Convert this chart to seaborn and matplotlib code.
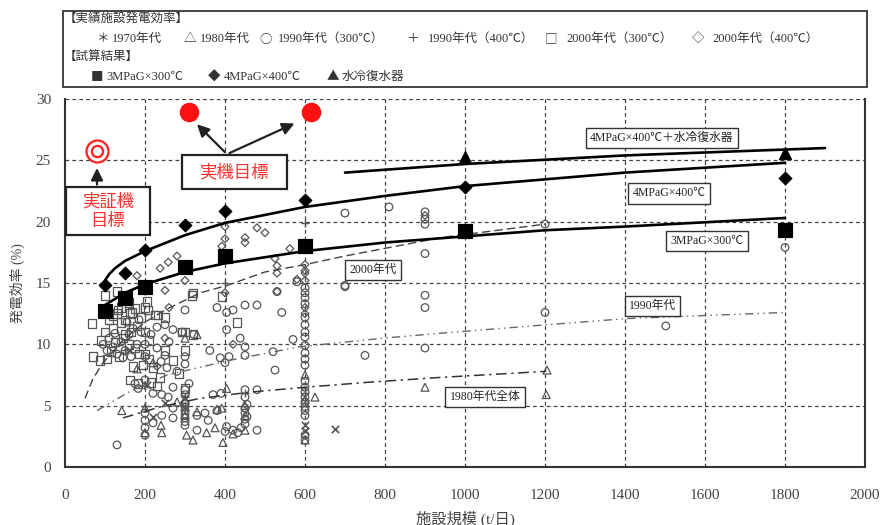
import matplotlib
matplotlib.use("Agg")
import matplotlib.pyplot as plt
from matplotlib.patches import Rectangle
import seaborn as sns

x_1970 = [205, 220, 300, 300, 600, 600, 675, 160, 250]
y_1970 = [6.7, 4.1, 5.6, 4.9, 3.4, 2.9, 3.1, 9.5, 5.2]

x_1980 = [142, 200, 220, 242, 300, 300, 304, 320, 330, 354, 375, 392, 395, 404, 450, 450, 450,
          600, 600, 600, 625, 900, 1203, 1205, 300, 240, 200, 330, 380, 420, 280, 180]
y_1980 = [4.6, 2.8, 8.5, 2.8, 10.5, 5.5, 2.6, 2.2, 10.8, 2.8, 3.2, 4.8, 2.0, 6.4, 5.0, 3.0, 4.2,
          7.5, 2.2, 5.5, 5.7, 6.5, 5.9, 7.9, 4.2, 3.4, 4.8, 4.5, 4.7, 2.7, 5.3, 8.0]

x_1990_300 = [130, 300, 450, 480, 542, 530, 380, 404, 420, 250, 270, 292, 322, 404, 438, 450, 450,
              362, 388, 400, 300, 300, 250, 230, 255, 270, 242, 258, 220, 183, 200, 270, 270, 242,
              220, 200, 200, 330, 370, 330, 358, 404, 432, 480, 455, 455, 570, 525, 750, 700, 580,
              900, 900, 1200, 1502, 1800, 900,
              600, 600, 600, 600, 600, 600, 600, 600, 600, 600, 600, 600, 600, 600, 600, 600, 600,
              600, 600, 600, 600, 600,
              300, 300, 300, 300, 300, 300, 300, 300, 300,
              450, 450, 450, 450, 450, 450,
              200, 200, 200, 200,
              110, 120, 130, 140, 150, 160, 170, 180, 190, 125, 145, 165, 175, 185, 155, 105, 95,
              215, 230, 240, 260, 280, 310, 350, 390, 410, 420, 440, 400, 380, 520, 480,
              700, 810, 900, 900, 900, 900, 700, 1200]
y_1990_300 = [1.8, 12.8, 13.2, 13.2, 12.6, 14.3, 13.0, 12.6, 12.8, 11.6, 11.2, 11.0, 10.8, 11.2, 10.5, 9.8, 9.1,
              9.5, 8.9, 8.5, 9.0, 8.4, 9.1, 9.7, 8.1, 6.5, 5.9, 5.7, 6.0, 6.4, 7.1, 4.8, 4.0, 4.2,
              3.6, 3.8, 3.2, 3.0, 5.9, 4.2, 3.8, 3.3, 2.8, 3.0, 4.1, 5.1, 10.4, 7.9, 9.1, 14.7, 15.1,
              14.0, 9.7, 12.6, 11.5, 17.9, 13.0,
              14.6, 14.2, 13.8, 13.3, 12.2, 11.6, 11.0, 10.6, 9.9, 9.3, 8.8, 8.3, 7.0, 6.5, 6.1, 5.7, 5.3,
              4.9, 4.6, 4.2, 2.6, 2.2,
              6.3, 5.9, 5.2, 4.9, 4.6, 4.3, 4.0, 3.7, 3.4,
              6.3, 5.7, 4.8, 4.4, 3.9, 3.5,
              4.4, 2.6, 9.0, 10.0,
              10.5, 9.8, 9.2, 10.2, 9.5, 10.8, 11.3, 10.0, 11.0, 10.9, 8.9, 9.0, 6.8, 12.0, 11.8, 9.5, 10.0,
              10.8, 11.4, 8.6, 10.2, 7.8, 6.8, 4.4, 6.0, 9.0, 3.0, 3.2, 2.9, 4.6, 9.4, 6.3,
              20.7, 21.2, 20.8, 20.2, 19.8, 17.4, 14.8, 19.8]

x_1990_400 = [600, 400, 200, 300, 450, 600, 600, 300, 200, 150]
y_1990_400 = [19.9, 15.0, 6.6, 5.0, 6.0, 6.0, 5.5, 5.7, 5.0, 9.5]

x_2000_300 = [68, 100, 130, 133, 168, 208, 205, 225, 320, 292, 320, 70, 88, 130, 163, 233, 317, 392,
              430, 270, 238, 163, 183, 170, 195, 220, 300, 300, 100, 110, 120, 140, 150, 160, 180,
              190, 200, 210, 115, 135, 150, 175, 200, 125, 145, 165, 185, 210, 250, 285, 90, 105,
              250, 200, 160, 140, 120, 175, 215, 230, 300]
y_2000_300 = [11.7, 14.0, 14.3, 12.8, 12.6, 12.8, 13.5, 12.4, 14.2, 11.0, 10.8, 9.0, 8.7, 12.5, 12.5, 12.4, 14.0, 13.9,
              11.8, 8.7, 7.3, 7.1, 6.8, 8.2, 8.3, 8.1, 6.4, 11.0, 11.0, 12.0, 11.3, 11.8, 10.8, 10.0, 11.5,
              12.2, 11.0, 10.3, 9.4, 9.0, 12.0, 9.7, 9.2, 10.2, 10.5, 11.0, 9.2, 8.8, 9.5, 7.6, 10.3, 8.8,
              12.2, 13.0, 13.4, 13.0, 12.3, 12.9, 6.9, 6.6, 9.5]

x_2000_400 = [180, 238, 258, 280, 300, 392, 400, 450, 480, 500, 525, 530, 562, 580, 600, 530, 530,
              600, 600, 250, 400, 900, 450, 400, 230, 250, 260, 420, 600, 600, 600]
y_2000_400 = [15.6, 16.2, 16.7, 17.2, 15.2, 18.0, 18.6, 18.3, 19.5, 19.1, 17.0, 15.8, 17.8, 15.3, 16.5, 16.4, 14.3,
              15.8, 15.2, 14.4, 19.6, 20.5, 18.7, 14.2, 8.2, 10.5, 13.0, 10.0, 13.0, 12.5, 16.0]

# --- trial calculation results ---
x_3mpa = [100, 150, 200, 300, 400, 600, 1000, 1800]
y_3mpa = [12.7, 13.8, 14.7, 16.3, 17.2, 18.0, 19.2, 19.3]
x_4mpa = [100, 150, 200, 300, 400, 600, 1000, 1800]
y_4mpa = [14.8, 15.8, 17.7, 19.7, 20.9, 21.8, 22.8, 23.6]
x_water = [1000, 1800]
y_water = [25.3, 25.6]

# --- trend curves ---
cx_3mpa = [100, 150, 200, 300, 400, 600, 800, 1000, 1200, 1400, 1800]
cy_3mpa = [13.2, 14.2, 14.9, 15.9, 16.6, 17.6, 18.3, 18.8, 19.3, 19.6, 20.3]
cx_4mpa = [100, 110, 125, 150, 200, 300, 400, 600, 800, 1000, 1400, 1800]
cy_4mpa = [15.2, 15.7, 16.2, 16.8, 17.6, 18.9, 19.9, 21.2, 22.1, 22.9, 24.0, 24.8]
cx_water = [700, 1000, 1400, 1900]
cy_water = [24.0, 24.7, 25.4, 26.0]
cx_2000 = [50, 70, 95, 150, 200, 250, 338, 405, 500, 600, 700, 812, 940, 1200]
cy_2000 = [5.6, 7.2, 8.5, 10.5, 11.8, 12.8, 14.2, 14.8, 15.9, 16.5, 17.2, 17.9, 18.7, 19.8]
cx_1990 = [80, 170, 255, 412, 587, 795, 937, 1205, 1405, 1800]
cy_1990 = [4.6, 6.3, 7.5, 8.7, 9.8, 10.5, 10.9, 11.6, 12.1, 12.6]
cx_1980 = [145, 238, 338, 462, 600, 755, 937, 1203]
cy_1980 = [4.0, 4.9, 5.6, 6.1, 6.5, 6.9, 7.3, 7.8]

# --- targets ---
demo_target = (80, 25.8)
real_target_x = [310, 615]
real_target_y = [28.9, 28.9]

W, H = 883, 525
sns.set_theme(style="white")
plt.rcParams['font.family'] = ['Liberation Serif', 'Noto Sans CJK JP']

fig = plt.figure(figsize=(W / 100, H / 100), dpi=100)
ax = fig.add_axes([65 / W, 58 / H, 800 / W, 368 / H])

grid_kw = dict(color="#444", lw=0.9, ls=(0, (3, 2.5)), zorder=0)
for gx in range(200, 2000, 200):
    ax.axvline(gx, **grid_kw)
for gy in range(5, 31, 5):
    ax.axhline(gy, **grid_kw)

edge = "#555"
open_kw = dict(facecolor="none", edgecolor=edge, linewidth=0.9, ax=ax, zorder=3)
sns.scatterplot(x=x_1990_300, y=y_1990_300, marker="o", s=30, **open_kw)
sns.scatterplot(x=x_1980, y=y_1980, marker="^", s=32, **open_kw)
sns.scatterplot(x=x_2000_300, y=y_2000_300, marker="s", s=38, **open_kw)
sns.scatterplot(x=x_2000_400, y=y_2000_400, marker="D", s=16, **open_kw)
sns.scatterplot(x=x_1970, y=y_1970, marker="x", s=28, color=edge, linewidth=1.2, ax=ax, zorder=3)
sns.scatterplot(x=x_1990_400, y=y_1990_400, marker="+", s=34, color=edge, linewidth=1.0, ax=ax, zorder=3)

# decade trend curves
thin = dict(sort=False, estimator=None, ax=ax, zorder=4)
sns.lineplot(x=cx_2000, y=cy_2000, color="#444", lw=1.0, linestyle=(0, (6, 3)), **thin)
sns.lineplot(x=cx_1990, y=cy_1990, color="#666", lw=1.0, linestyle=(0, (6, 3, 1, 3, 1, 3)), **thin)
sns.lineplot(x=cx_1980, y=cy_1980, color="#333", lw=1.1, linestyle=(0, (7, 3, 1.5, 3)), **thin)

# model curves
sns.lineplot(x=cx_3mpa, y=cy_3mpa, color="black", lw=1.9, **thin)
sns.lineplot(x=cx_4mpa, y=cy_4mpa, color="black", lw=1.9, **thin)
sns.lineplot(x=cx_water, y=cy_water, color="black", lw=1.9, **thin)

sns.scatterplot(x=x_3mpa, y=y_3mpa, marker="s", s=110, color="black", edgecolor="black", ax=ax, zorder=5)
sns.scatterplot(x=x_4mpa, y=y_4mpa, marker="D", s=45, color="black", edgecolor="black", ax=ax, zorder=5)
sns.scatterplot(x=x_water, y=y_water, marker="^", s=80, color="black", edgecolor="black", ax=ax, zorder=5)

# targets
ax.scatter([demo_target[0]], [demo_target[1]], s=250, facecolor="white", edgecolor="#ff2020", linewidth=1.6, zorder=6, clip_on=False)
ax.scatter([demo_target[0]], [demo_target[1]], s=65, facecolor="white", edgecolor="#ff2020", linewidth=1.6, zorder=6, clip_on=False)
sns.scatterplot(x=real_target_x, y=real_target_y, s=170, color="#ff1010", edgecolor="#ff1010", ax=ax, zorder=6)

red = "#ff3030"
box_kw = dict(fill=True, facecolor="white", edgecolor="#222", lw=1.6, zorder=7)
ax.add_patch(Rectangle((3, 18.9), 209, 3.9, **box_kw))
ax.text(107, 20.85, "実証機\n目標", color=red, fontsize=12.5, ha="center", va="center",
        linespacing=1.15, zorder=8, family="Noto Sans CJK JP")
ax.add_patch(Rectangle((292, 22.7), 263, 2.75, **box_kw))
ax.text(423, 24.0, "実機目標", color=red, fontsize=12.5, ha="center", va="center", zorder=8,
        family="Noto Sans CJK JP")

arrow_kw = dict(arrowstyle="-|>,head_length=0.6,head_width=0.3", color="#222", lw=1.6)
ax.annotate("", xy=(80, 24.6), xytext=(80, 22.8), arrowprops=arrow_kw, zorder=8)
ax.annotate("", xy=(325, 28.1), xytext=(405, 25.5), arrowprops=arrow_kw, zorder=8)
ax.annotate("", xy=(580, 28.1), xytext=(405, 25.5), arrowprops=arrow_kw, zorder=8)

lab_kw = dict(fontsize=8.5, ha="center", va="center", color="#222", zorder=8,
              bbox=dict(boxstyle="square,pad=0.35", facecolor="white", edgecolor="#333", lw=1.0))
ax.text(1492, 26.8, "4MPaG×400℃＋水冷復水器", **lab_kw)
ax.text(1510, 22.3, "4MPaG×400℃", **lab_kw)
ax.text(1605, 18.4, "3MPaG×300℃", **lab_kw)
ax.text(770, 16.05, "2000年代", **lab_kw)
ax.text(1468, 13.1, "1990年代", **lab_kw)
ax.text(1050, 5.7, "1980年代全体", **lab_kw)

ax.set_xlim(0, 2000)
ax.set_ylim(0, 30)
ax.set_xticks(range(0, 2001, 200))
ax.set_yticks(range(0, 31, 5))
ax.tick_params(axis="x", length=0, pad=16, labelsize=11, labelcolor="#444")
ax.tick_params(axis="y", length=0, pad=10, labelsize=11, labelcolor="#444")
for side in ["left", "bottom", "right"]:
    ax.spines[side].set_color("#333")
    ax.spines[side].set_linewidth(1.5)
ax.spines["top"].set_visible(False)
ax.set_xlabel("施設規模 (t/日)", fontsize=11, color="#444", labelpad=6)
ax.set_ylabel("発電効率 (%)", fontsize=10, color="#444", labelpad=8)

# legend box at the top
def fx(px):
    return px / W

def fy(py):
    return 1 - py / H

fig.patches.append(Rectangle((fx(63), fy(87)), (867 - 63) / W, (87 - 11) / H, transform=fig.transFigure,
                             fill=False, edgecolor="#444", lw=1.4))
leg_font = dict(fontsize=9, color="#333", va="center")
sym_font = dict(fontsize=9, color="#333", va="center", family="Noto Sans CJK JP")
fig.text(fx(64), fy(19), "【実績施設発電効率】", **leg_font)
fig.text(fx(64), fy(57), "【試算結果】", **leg_font)

row2_sym = ["＊", "△", "○", "＋", "□", "◇"]
row2_sym_x = [96, 184, 259, 406, 545, 692]
row2_lab = ["1970年代", "1980年代", "1990年代（300℃）", "1990年代（400℃）", "2000年代（300℃）", "2000年代（400℃）"]
row2_lab_x = [112, 200, 278, 428, 566, 712]
for s, sx, t, tx in zip(row2_sym, row2_sym_x, row2_lab, row2_lab_x):
    fig.text(fx(sx), fy(39), s, **sym_font)
    fig.text(fx(tx), fy(39), t, **leg_font)

row4_sym = ["■", "◆", "▲"]
row4_sym_x = [91, 208, 327]
row4_lab = ["3MPaG×300℃", "4MPaG×400℃", "水冷復水器"]
row4_lab_x = [106, 224, 342]
for s, sx, t, tx in zip(row4_sym, row4_sym_x, row4_lab, row4_lab_x):
    fig.text(fx(sx), fy(77), s, **sym_font)
    fig.text(fx(tx), fy(77), t, **leg_font)

fig.savefig("out.png", dpi=100, facecolor="white")
